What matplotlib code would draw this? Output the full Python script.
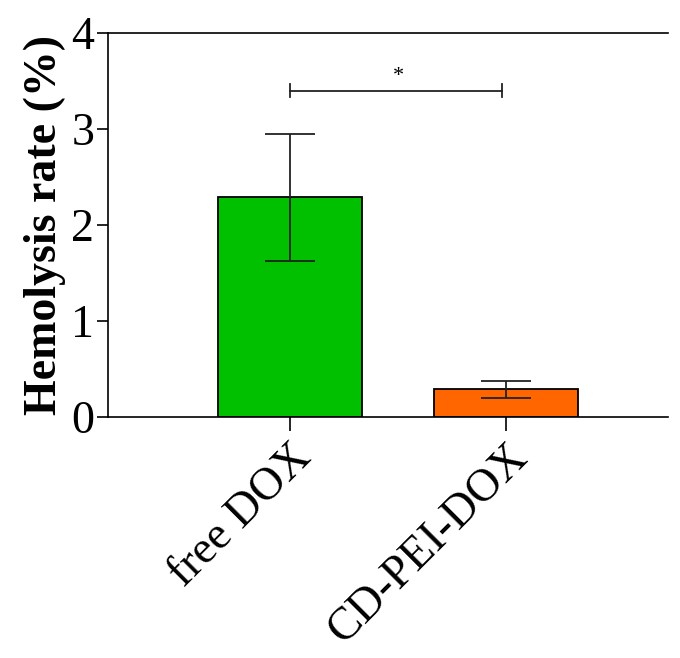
import numpy as np
import matplotlib
matplotlib.use('Agg')
import matplotlib.pyplot as plt

plt.rcParams['font.family'] = ['Liberation Serif', 'DejaVu Serif']

groups = ['free DOX', 'CD-PEI-DOX']
rates = [2.29, 0.29]
errs = [0.66, 0.09]
colors = ['#00C000', '#FF6600']
sig_y = 3.4

fig = plt.figure(figsize=(6.8, 6.58), dpi=100)
ax = fig.add_axes([108/680, 1 - 417/658, 560/680, 384/658])

x = np.arange(len(groups))
ax.bar(x, rates, width=0.667, color=colors, edgecolor='black', linewidth=1.3, zorder=2)
ax.errorbar(x, rates, yerr=errs, fmt='none', ecolor='#222222', elinewidth=1.3,
            capsize=18, capthick=1.3, zorder=3)

# significance bracket
ax.plot([x[0], x[1] - 0.02], [sig_y, sig_y], color='#222222', lw=1.3)
for xi in [x[0], x[1] - 0.02]:
    ax.plot([xi, xi], [sig_y - 0.07, sig_y + 0.07], color='#222222', lw=1.3)
ax.text((x[0] + x[1]) / 2, sig_y + 0.05, '*', ha='center', va='bottom', fontsize=16)

ax.set_xlim(-0.843, 1.75)
ax.set_ylim(0, 4)
ax.set_yticks([0, 1, 2, 3, 4])
ax.set_xticks(x)
ax.set_xticklabels(groups, rotation=45, ha='right', rotation_mode='anchor', fontsize=33)
ax.tick_params(axis='y', labelsize=33, length=8, width=1.2, pad=2)
ax.tick_params(axis='x', length=10, width=1.2, pad=4)
ax.spines['right'].set_visible(False)
for s in ['left', 'bottom', 'top']:
    ax.spines[s].set_linewidth(1.2)
ax.set_ylabel('Hemolysis rate (%)', fontsize=33, fontweight='bold', labelpad=4)

fig.savefig('out.png', dpi=100)
